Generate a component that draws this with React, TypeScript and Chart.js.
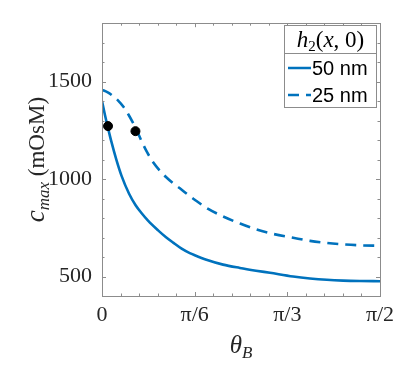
import React, { useEffect, useRef } from "react";
import { Chart, registerables } from "chart.js";

Chart.register(...registerables);

// ---- data ----
const seriesNames = ["50 nm", "25 nm"];
const theta50 = [0, 0.017, 0.034, 0.053, 0.081, 0.11, 0.153, 0.19, 0.223, 0.26, 0.317, 0.36, 0.402, 0.45, 0.496, 0.524, 0.59, 0.684, 0.779, 0.87, 0.949, 1.08, 1.175, 1.27, 1.363, 1.457, 1.5708];
const cmax50 = [1400, 1328, 1262, 1192, 1100, 1018, 925, 866, 826, 787, 737, 703, 674, 643, 620, 609, 586, 561, 544, 530, 519, 500, 490, 483, 479, 477, 476];
const theta25 = [0, 0.03, 0.06, 0.09, 0.12, 0.15, 0.19, 0.22, 0.25, 0.29, 0.33, 0.36, 0.4, 0.44, 0.48, 0.524, 0.6, 0.68, 0.78, 0.87, 0.96, 1.08, 1.175, 1.27, 1.36, 1.46, 1.5708];
const cmax25 = [1458, 1446, 1428, 1404, 1372, 1330, 1262, 1202, 1146, 1085, 1040, 1012, 980, 953, 924, 894, 847, 810, 772, 742, 720, 699, 683, 672, 665, 660, 658];
const markerTheta = [0.034, 0.189];
const markerCmax = [1272, 1246];

const xTicks = [0, Math.PI / 6, Math.PI / 3, Math.PI / 2];
const xTickLabels = ["0", "π/6", "π/3", "π/2"];
const xMinorStep = Math.PI / 30;
const yTicks = [500, 1000, 1500];
const yMinorStep = 100;
const yMin = 400;
const yMax = 1800;

const BLUE = "#0072BD";
const TEXT = "#262626";
const FRAME = "#8c8c8c";

type Piece = { t: string; font: string; dy?: number };

function drawPieces(ctx: CanvasRenderingContext2D, pieces: Piece[], cx: number, cy: number, align: "center" | "left") {
  let total = 0;
  const widths = pieces.map((p) => {
    ctx.font = p.font;
    const w = ctx.measureText(p.t).width;
    total += w;
    return w;
  });
  let x = align === "center" ? cx - total / 2 : cx;
  pieces.forEach((p, i) => {
    ctx.font = p.font;
    ctx.fillText(p.t, x, cy + (p.dy || 0));
    x += widths[i];
  });
}

const decorPlugin = {
  id: "matlabDecor",
  afterDraw(chart: any) {
    const ctx: CanvasRenderingContext2D = chart.ctx;
    const { left, right, top, bottom } = chart.chartArea;
    const xs = chart.scales.x;
    const ys = chart.scales.y;
    ctx.save();
    // frame
    ctx.strokeStyle = FRAME;
    ctx.lineWidth = 1;
    ctx.strokeRect(Math.round(left) + 0.5, Math.round(top) + 0.5, Math.round(right - left), Math.round(bottom - top));
    // ticks inward
    ctx.beginPath();
    for (let k = 0; k <= 15; k++) {
      const v = k * xMinorStep;
      const px = Math.round(xs.getPixelForValue(v)) + 0.5;
      const major = k % 5 === 0;
      const L = major ? 4 : 2.5;
      ctx.moveTo(px, bottom);
      ctx.lineTo(px, bottom - L);
      ctx.moveTo(px, top);
      ctx.lineTo(px, top + L);
    }
    for (let v = yMin; v <= yMax; v += yMinorStep) {
      const py = Math.round(ys.getPixelForValue(v)) + 0.5;
      const major = yTicks.includes(v);
      const L = major ? 4 : 2.5;
      ctx.moveTo(left, py);
      ctx.lineTo(left + L, py);
      ctx.moveTo(right, py);
      ctx.lineTo(right - L, py);
    }
    ctx.stroke();

    // axis titles
    ctx.fillStyle = TEXT;
    ctx.textBaseline = "alphabetic";
    drawPieces(
      ctx,
      [
        { t: "θ", font: "italic 25px 'Liberation Serif'" },
        { t: "B", font: "italic 17px 'Liberation Serif'", dy: 5 },
      ],
      (left + right) / 2,
      353,
      "center"
    );
    ctx.save();
    ctx.translate(44, (top + bottom) / 2);
    ctx.rotate(-Math.PI / 2);
    drawPieces(
      ctx,
      [
        { t: "c", font: "italic 27px 'Liberation Serif'" },
        { t: "max", font: "italic 17px 'Liberation Serif'", dy: 5 },
        { t: " (mOsM)", font: "23px 'Liberation Serif'" },
      ],
      0,
      0,
      "center"
    );
    ctx.restore();

    // legend
    const lx = 284.5, ly = 25.5, lw = 92, lh = 82, sep = 53.5;
    ctx.fillStyle = "#ffffff";
    ctx.fillRect(lx, ly, lw, lh);
    ctx.strokeStyle = FRAME;
    ctx.lineWidth = 1;
    ctx.strokeRect(lx, ly, lw, lh);
    ctx.beginPath();
    ctx.moveTo(lx, sep);
    ctx.lineTo(lx + lw, sep);
    ctx.stroke();
    ctx.fillStyle = "#000";
    drawPieces(
      ctx,
      [
        { t: "h", font: "italic 23px 'Liberation Serif'" },
        { t: "2", font: "15px 'Liberation Serif'", dy: 4 },
        { t: "(", font: "23px 'Liberation Serif'" },
        { t: "x", font: "italic 23px 'Liberation Serif'" },
        { t: ", 0)", font: "23px 'Liberation Serif'" },
      ],
      lx + lw / 2,
      47,
      "center"
    );
    const rows = [68, 95];
    chart.data.datasets.slice(1).forEach((ds: any, i: number) => {
      const y = rows[i];
      ctx.strokeStyle = ds.borderColor;
      ctx.lineWidth = 2.5;
      ctx.setLineDash(ds.borderDash || []);
      ctx.beginPath();
      ctx.moveTo(288, y);
      ctx.lineTo(311, y);
      ctx.stroke();
      ctx.setLineDash([]);
      ctx.fillStyle = "#000";
      ctx.font = "20px 'Liberation Sans'";
      ctx.textBaseline = "middle";
      ctx.fillText(ds.label, 312, y + 1);
    });
    ctx.restore();
  },
};

export default function App() {
  const ref = useRef<HTMLCanvasElement | null>(null);
  useEffect(() => {
    document.body.style.margin = "0";
    const canvas = ref.current!;
    const chart = new Chart(canvas, {
      type: "scatter",
      data: {
        datasets: [
          {
            label: "markers",
            data: markerTheta.map((x, i) => ({ x, y: markerCmax[i] })),
            backgroundColor: "#000",
            borderColor: "#000",
            pointRadius: 4.5,
            showLine: false,
          },
          {
            label: seriesNames[0],
            data: theta50.map((x, i) => ({ x, y: cmax50[i] })),
            borderColor: BLUE,
            borderWidth: 2.6,
            pointRadius: 0,
            showLine: true,
            cubicInterpolationMode: "monotone",
          },
          {
            label: seriesNames[1],
            data: theta25.map((x, i) => ({ x, y: cmax25[i] })),
            borderColor: BLUE,
            borderWidth: 2.6,
            borderDash: [11, 7],
            pointRadius: 0,
            showLine: true,
            cubicInterpolationMode: "monotone",
          },
        ],
      } as any,
      options: {
        animation: false,
        responsive: false,
        devicePixelRatio: 1,
        layout: { padding: { left: 0, right: 27, top: 19, bottom: 0 } },
        plugins: { legend: { display: false }, tooltip: { enabled: false } },
        scales: {
          x: {
            type: "linear",
            min: 0,
            max: Math.PI / 2,
            afterBuildTicks: (s: any) => {
              s.ticks = xTicks.map((v) => ({ value: v }));
            },
            afterFit: (s: any) => {
              s.height = 74;
            },
            grid: { display: false, drawTicks: false },
            border: { display: false },
            ticks: {
              padding: 6,
              maxRotation: 0,
              autoSkip: false,
              color: TEXT,
              font: { family: "'Liberation Serif'", size: 22 },
              callback: (_v: any, i: number) => xTickLabels[i],
            },
          },
          y: {
            type: "linear",
            min: yMin,
            max: yMax,
            afterBuildTicks: (s: any) => {
              s.ticks = yTicks.map((v) => ({ value: v }));
            },
            afterFit: (s: any) => {
              s.width = 102;
            },
            grid: { display: false, drawTicks: false },
            border: { display: false },
            ticks: {
              padding: 10,
              autoSkip: false,
              color: TEXT,
              font: { family: "'Liberation Serif'", size: 22 },
              callback: (v: any) => String(v),
            },
          },
        },
      } as any,
      plugins: [decorPlugin],
    });
    return () => chart.destroy();
  }, []);
  return <canvas ref={ref} width={407} height={370} style={{ display: "block" }} />;
}
